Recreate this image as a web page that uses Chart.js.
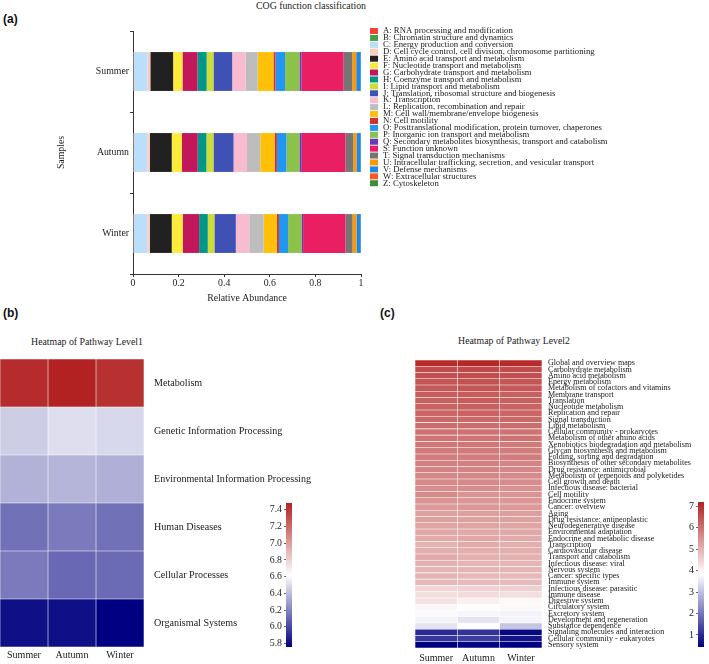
<!DOCTYPE html>
<html><head><meta charset="utf-8">
<script src="https://cdn.jsdelivr.net/npm/chart.js@4.4.0/dist/chart.umd.min.js"></script>
<style>
body{margin:0;background:#fff;}
#wrap{position:relative;width:709px;height:664px;overflow:hidden;background:#fff;}
canvas{position:absolute;}
.lab{position:absolute;font-family:"Liberation Sans",Arial,sans-serif;font-weight:bold;font-size:12px;line-height:1;color:#111;white-space:nowrap;}
.ttl{position:absolute;font-family:"Liberation Serif","Times New Roman",serif;font-size:9.8px;line-height:1;color:#222;white-space:nowrap;transform:translate(-50%,-50%);}
</style></head>
<body><div id="wrap">
<div class="lab" style="left:3px;top:13px">(a)</div>
<div class="lab" style="left:3px;top:307px">(b)</div>
<div class="lab" style="left:380px;top:307px">(c)</div>
<div class="ttl" style="left:311px;top:6px">COG function classification</div>
<div class="ttl" style="left:87px;top:342px">Heatmap of Pathway Level1</div>
<div class="ttl" style="left:514px;top:341px">Heatmap of Pathway Level2</div>
<canvas id="cA" width="622" height="310" style="left:0;top:0"></canvas>
<canvas id="cB" width="320" height="314" style="left:0;top:350px"></canvas>
<canvas id="cBbar" width="60" height="170" style="left:240px;top:490px"></canvas>
<canvas id="cC" width="309" height="314" style="left:400px;top:350px"></canvas>
<canvas id="cCbar" width="59" height="170" style="left:650px;top:490px"></canvas>
</div>
<script>
// ---------- DATA ----------
const seasons = ['Summer', 'Autumn', 'Winter'];

const cogNames = [
  'A: RNA processing and modification',
  'B: Chromatin structure and dynamics',
  'C: Energy production and conversion',
  'D: Cell cycle control, cell division, chromosome partitioning',
  'E: Amino acid transport and metabolism',
  'F: Nucleotide transport and metabolism',
  'G: Carbohydrate transport and metabolism',
  'H: Coenzyme transport and metabolism',
  'I: Lipid transport and metabolism',
  'J: Translation, ribosomal structure and biogenesis',
  'K: Transcription',
  'L: Replication, recombination and repair',
  'M: Cell wall/membrane/envelope biogenesis',
  'N: Cell motility',
  'O: Posttranslational modification, protein turnover, chaperones',
  'P: Inorganic ion transport and metabolism',
  'Q: Secondary metabolites biosynthesis, transport and catabolism',
  'S: Function unknown',
  'T: Signal transduction mechanisms',
  'U: Intracellular trafficking, secretion, and vesicular transport',
  'V: Defense mechanisms',
  'W: Extracellular structures',
  'Z: Cytoskeleton'
];
const cogColors = ['#F44336','#43A047','#BBDEFB','#FFCCBC','#212121','#FFEB3B','#C2185B','#009688','#CDDC39','#3F51B5','#F8BBD0','#BDBDBD','#FFC107','#D32F2F','#2196F3','#8BC34A','#673AB7','#E91E63','#757575','#FF9800','#1E88E5','#FF5722','#388E3C'];
const cogSummer = [0.001,0.001,0.062,0.012,0.100,0.041,0.066,0.040,0.030,0.082,0.059,0.053,0.069,0.009,0.042,0.063,0.009,0.185,0.038,0.017,0.020,0.0005,0.0005];
const cogAutumn = [0.001,0.001,0.061,0.011,0.096,0.045,0.069,0.038,0.031,0.088,0.059,0.058,0.063,0.010,0.042,0.057,0.010,0.192,0.034,0.014,0.019,0.0005,0.0005];
const cogWinter = [0.001,0.001,0.061,0.011,0.096,0.048,0.072,0.038,0.029,0.094,0.059,0.063,0.058,0.009,0.040,0.059,0.007,0.186,0.031,0.017,0.019,0.0005,0.0005];

const level1Names = ['Metabolism','Genetic Information Processing','Environmental Information Processing','Human Diseases','Cellular Processes','Organismal Systems'];
const level1Summer = [7.44, 6.45, 6.36, 6.14, 6.17, 5.81];
const level1Autumn = [7.48, 6.51, 6.37, 6.17, 6.11, 5.81];
const level1Winter = [7.42, 6.49, 6.35, 6.14, 6.12, 5.76];
const level1Range = [5.76, 7.48];
const level1TickStep = 0.2;

const level2Names = ['Global and overview maps','Carbohydrate metabolism','Amino acid metabolism','Energy metabolism','Metabolism of cofactors and vitamins','Membrane transport','Translation','Nucleotide metabolism','Replication and repair','Signal transduction','Lipid metabolism','Cellular community - prokaryotes','Metabolism of other amino acids','Xenobiotics biodegradation and metabolism','Glycan biosynthesis and metabolism','Folding, sorting and degradation','Biosynthesis of other secondary metabolites','Drug resistance: antimicrobial','Metabolism of terpenoids and polyketides','Cell growth and death','Infectious disease: bacterial','Cell motility','Endocrine system','Cancer: overview','Aging','Drug resistance: antineoplastic','Neurodegenerative disease','Environmental adaptation','Endocrine and metabolic disease','Transcription','Cardiovascular disease','Transport and catabolism','Infectious disease: viral','Nervous system','Cancer: specific types','Immune system','Infectious disease: parasitic','Immune disease','Digestive system','Circulatory system','Excretory system','Development and regeneration','Substance dependence','Signaling molecules and interaction','Cellular community - eukaryotes','Sensory system'];
const level2Summer = [7.05,6.55,6.50,6.40,6.35,6.30,6.25,6.20,6.15,6.10,6.05,6.00,5.95,5.90,5.85,5.80,5.75,5.70,5.65,5.60,5.55,5.60,5.45,5.35,5.25,5.25,5.20,5.15,5.10,4.95,5.05,5.10,5.00,4.95,4.95,4.90,4.45,4.30,4.25,3.95,3.75,3.65,3.45,1.00,1.15,0.45];
const level2Autumn = [7.10,6.60,6.55,6.45,6.40,6.30,6.30,6.25,6.20,6.10,6.05,6.00,5.95,5.90,5.85,5.80,5.75,5.70,5.65,5.60,5.55,5.45,5.40,5.40,5.30,5.25,5.20,5.15,5.15,5.10,5.05,5.00,4.95,4.95,4.90,4.85,4.50,4.35,4.05,3.85,3.70,3.45,3.85,1.10,1.25,0.50];
const level2Winter = [7.05,6.55,6.50,6.40,6.35,6.25,6.25,6.20,6.15,6.10,6.05,5.95,5.95,5.85,5.80,5.80,5.70,5.65,5.60,5.55,5.50,5.45,5.40,5.35,5.30,5.25,5.20,5.15,5.10,5.05,5.05,5.00,4.95,4.95,4.90,4.85,4.55,4.30,3.90,3.90,3.65,3.65,3.05,0.55,0.70,0.45];
const level2Range = [0.44, 7.19];
const level2TickStep = 1;

// ---------- HELPERS ----------
const SERIF = '"Liberation Serif", "Times New Roman", serif';
const LOW = [0,0,128], MID = [255,255,255], HIGH = [178,34,34];
function heatColor(v, range){
  const lo = range[0], hi = range[1], mid = (lo+hi)/2;
  let a, b, t;
  if (v <= mid){ a = LOW; b = MID; t = (v-lo)/(mid-lo); }
  else { a = MID; b = HIGH; t = (v-mid)/(hi-mid); }
  t = Math.max(0, Math.min(1, t));
  const c = a.map((x,i)=>Math.round(x + (b[i]-x)*t));
  return 'rgb(' + c.join(',') + ')';
}

const cogLegend = {
  id: 'cogLegend',
  afterDraw(chart){
    const ctx = chart.ctx, area = chart.chartArea;
    ctx.save();
    ctx.font = '8.7px ' + SERIF;
    ctx.textBaseline = 'middle';
    ctx.textAlign = 'left';
    chart.data.datasets.forEach((ds, i) => {
      const y = area.top + i*6.92;
      ctx.fillStyle = ds.backgroundColor;
      ctx.fillRect(area.right + 9, y - 3, 8, 6);
      ctx.fillStyle = '#1a1a1a';
      ctx.fillText(ds.label, area.right + 22, y);
    });
    ctx.restore();
  }
};

// ---------- PANEL A ----------
new Chart(document.getElementById('cA'), {
  type: 'bar',
  data: {
    labels: seasons,
    datasets: cogNames.map((n, i) => ({
      label: n,
      data: [cogSummer[i], cogAutumn[i], cogWinter[i]],
      backgroundColor: cogColors[i],
      borderWidth: 0,
      categoryPercentage: 1,
      barPercentage: 0.48
    }))
  },
  options: {
    indexAxis: 'y',
    responsive: false,
    animation: false,
    layout: { padding: { left: 0, top: 31, right: 261, bottom: 0 } },
    plugins: { legend: { display: false }, tooltip: { enabled: false } },
    scales: {
      x: {
        stacked: true, min: 0, max: 1,
        ticks: { stepSize: 0.2, color: '#222', font: { family: SERIF, size: 9.8 }, padding: 1, maxRotation: 0,
                 callback: v => String(Math.round(v*10)/10) },
        grid: { drawOnChartArea: false, drawTicks: true, tickLength: 3, color: '#333' },
        border: { display: true, color: '#333', width: 1 },
        title: { display: true, text: 'Relative Abundance', color: '#222', font: { family: SERIF, size: 9.8 }, padding: { top: 0, bottom: 6 } },
        afterFit(s){ s.height = 36; }
      },
      y: {
        stacked: true,
        ticks: { color: '#222', font: { family: SERIF, size: 9.8 }, padding: 1 },
        grid: { drawOnChartArea: false, drawTicks: true, tickLength: 3, color: '#333', offset: true },
        border: { display: true, color: '#333', width: 1 },
        title: { display: true, text: 'Samples', color: '#222', font: { family: SERIF, size: 9.8 }, padding: { top: 56, bottom: 0 } },
        afterFit(s){ s.width = 133; }
      }
    }
  },
  plugins: [cogLegend]
});

// ---------- HEATMAPS ----------
function heatmap(id, rowNames, cols, range, cfg){
  return new Chart(document.getElementById(id), {
    type: 'bar',
    data: {
      labels: rowNames,
      datasets: cols.map((vals, j) => ({
        label: seasons[j],
        data: vals.map(() => 1),
        backgroundColor: vals.map(v => heatColor(v, range)),
        borderColor: 'rgba(255,255,255,0.3)',
        borderWidth: 0.6,
        borderSkipped: false,
        categoryPercentage: 1,
        barPercentage: 1
      }))
    },
    options: {
      indexAxis: 'y',
      responsive: false,
      animation: false,
      layout: { padding: cfg.padding },
      plugins: { legend: { display: false }, tooltip: { enabled: false } },
      scales: {
        x: { stacked: true, min: 0, max: cols.length, display: false },
        xs: {
          type: 'category', labels: seasons, position: 'bottom', offset: true,
          grid: { display: false, drawTicks: false }, border: { display: false },
          ticks: { color: '#1a1a1a', font: { family: SERIF, size: 10 }, padding: cfg.xPad },
          afterFit(s){ s.height = cfg.xHeight; }
        },
        y: {
          stacked: true, position: 'right',
          grid: { display: false, drawTicks: true, tickLength: cfg.yGap }, border: { display: false },
          ticks: { autoSkip: false, color: '#1a1a1a', font: { family: SERIF, size: cfg.labelSize }, padding: 0 },
          afterFit(s){ s.width = cfg.yWidth; }
        }
      }
    }
  });
}

function colorbar(id, range, step, decimals, cfg){
  return new Chart(document.getElementById(id), {
    type: 'bar',
    data: {
      labels: [''],
      datasets: [{
        data: [range],
        backgroundColor(c){
          const ch = c.chart, a = ch.chartArea;
          if (!a) return '#ffffff';
          const g = ch.ctx.createLinearGradient(0, a.bottom, 0, a.top);
          g.addColorStop(0, 'rgb(0,0,128)');
          g.addColorStop(0.5, 'rgb(255,255,255)');
          g.addColorStop(1, 'rgb(178,34,34)');
          return g;
        },
        borderWidth: 0,
        categoryPercentage: 1,
        barPercentage: 1
      }]
    },
    options: {
      responsive: false,
      animation: false,
      layout: { padding: cfg.padding },
      plugins: { legend: { display: false }, tooltip: { enabled: false } },
      scales: {
        x: { display: false },
        y: {
          min: range[0], max: range[1], position: 'left',
          ticks: { stepSize: step, includeBounds: false, color: '#222', font: { family: SERIF, size: cfg.size }, padding: 2,
                   callback: v => Number(v).toFixed(decimals) },
          grid: { drawOnChartArea: false, drawTicks: true, tickLength: 2, color: '#666' },
          border: { display: false },
          afterFit(s){ s.width = cfg.width; }
        }
      }
    }
  });
}

heatmap('cB', level1Names, [level1Summer, level1Autumn, level1Winter], level1Range,
  { padding: { left: 0, top: 9, right: 0, bottom: 0 }, xHeight: 17, xPad: 2, yWidth: 176, yGap: 10, labelSize: 10.1 });
colorbar('cBbar', level1Range, level1TickStep, 1,
  { padding: { left: 0, top: 13, right: 8, bottom: 13 }, width: 46, size: 9.8 });

heatmap('cC', level2Names, [level2Summer, level2Autumn, level2Winter], level2Range,
  { padding: { left: 15, top: 10, right: 0, bottom: 0 }, xHeight: 16, xPad: 4, yWidth: 167, yGap: 6, labelSize: 8.1 });
colorbar('cCbar', level2Range, level2TickStep, 0,
  { padding: { left: 0, top: 12, right: 5, bottom: 13 }, width: 48, size: 10 });
</script>
</body></html>
